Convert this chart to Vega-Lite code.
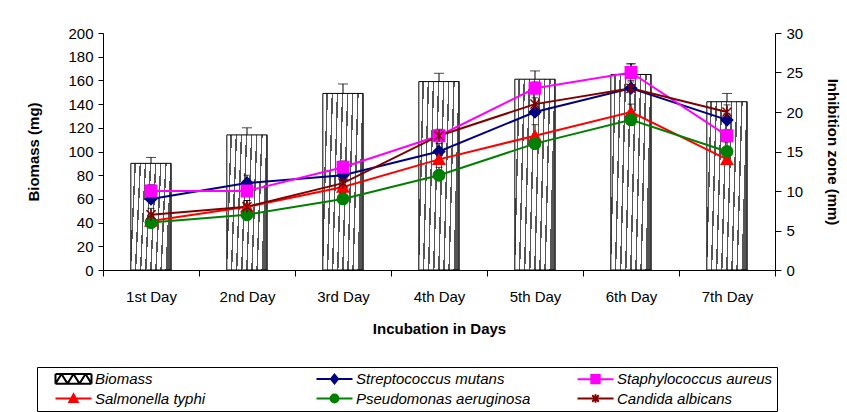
{
  "$schema": "https://vega.github.io/schema/vega-lite/v6.json",
  "width": 672,
  "height": 237,
  "autosize": {"type": "none"},
  "padding": {"left": 103, "top": 33, "right": 72, "bottom": 142},
  "background": "white",
  "config": {
    "font": "Liberation Sans",
    "view": {"stroke": null},
    "axis": {
      "labelColor": "black",
      "titleColor": "black",
      "domainColor": "black",
      "tickColor": "black",
      "grid": false,
      "labelFontSize": 15,
      "titleFontSize": 15,
      "titleFontWeight": "bold",
      "labelFont": "Liberation Sans",
      "titleFont": "Liberation Sans"
    }
  },
  "data": {
    "values": [
      {"day": "1st Day", "series": "Biomass", "value": 90, "hi": 95},
      {"day": "2nd  Day", "series": "Biomass", "value": 114, "hi": 120},
      {"day": "3rd Day", "series": "Biomass", "value": 149, "hi": 157},
      {"day": "4th Day", "series": "Biomass", "value": 159, "hi": 166},
      {"day": "5th Day", "series": "Biomass", "value": 161, "hi": 168},
      {"day": "6th Day", "series": "Biomass", "value": 165, "hi": 174},
      {"day": "7th Day", "series": "Biomass", "value": 142, "hi": 149},
      {"day": "1st Day", "series": "Streptococcus mutans", "value": 9, "hi": 9.8},
      {"day": "2nd  Day", "series": "Streptococcus mutans", "value": 11, "hi": 12},
      {"day": "3rd Day", "series": "Streptococcus mutans", "value": 12, "hi": 12.8},
      {"day": "4th Day", "series": "Streptococcus mutans", "value": 15, "hi": 16},
      {"day": "5th Day", "series": "Streptococcus mutans", "value": 20, "hi": 20.9},
      {"day": "6th Day", "series": "Streptococcus mutans", "value": 23, "hi": 24},
      {"day": "7th Day", "series": "Streptococcus mutans", "value": 19, "hi": 19.8},
      {"day": "1st Day", "series": "Staphylococcus aureus", "value": 10, "hi": 10.8},
      {"day": "2nd  Day", "series": "Staphylococcus aureus", "value": 10, "hi": 10.8},
      {"day": "3rd Day", "series": "Staphylococcus aureus", "value": 13, "hi": 13.8},
      {"day": "4th Day", "series": "Staphylococcus aureus", "value": 17, "hi": 17.8},
      {"day": "5th Day", "series": "Staphylococcus aureus", "value": 23, "hi": 23.8},
      {"day": "6th Day", "series": "Staphylococcus aureus", "value": 25, "hi": 26.1},
      {"day": "7th Day", "series": "Staphylococcus aureus", "value": 17, "hi": 17.8},
      {"day": "1st Day", "series": "Salmonella typhi", "value": 6.2, "hi": 7},
      {"day": "2nd  Day", "series": "Salmonella typhi", "value": 8, "hi": 8.8},
      {"day": "3rd Day", "series": "Salmonella typhi", "value": 10.5, "hi": 11.3},
      {"day": "4th Day", "series": "Salmonella typhi", "value": 14, "hi": 14.8},
      {"day": "5th Day", "series": "Salmonella typhi", "value": 17, "hi": 18.4},
      {"day": "6th Day", "series": "Salmonella typhi", "value": 20, "hi": 21},
      {"day": "7th Day", "series": "Salmonella typhi", "value": 14, "hi": 14.8},
      {"day": "1st Day", "series": "Pseudomonas aeruginosa", "value": 6, "hi": 6.8},
      {"day": "2nd  Day", "series": "Pseudomonas aeruginosa", "value": 7, "hi": 7.8},
      {"day": "3rd Day", "series": "Pseudomonas aeruginosa", "value": 9, "hi": 9.8},
      {"day": "4th Day", "series": "Pseudomonas aeruginosa", "value": 12, "hi": 13},
      {"day": "5th Day", "series": "Pseudomonas aeruginosa", "value": 16, "hi": 16.8},
      {"day": "6th Day", "series": "Pseudomonas aeruginosa", "value": 19, "hi": 20},
      {"day": "7th Day", "series": "Pseudomonas aeruginosa", "value": 15, "hi": 16.2},
      {"day": "1st Day", "series": "Candida albicans", "value": 7, "hi": 7.8},
      {"day": "2nd  Day", "series": "Candida albicans", "value": 8, "hi": 8.8},
      {"day": "3rd Day", "series": "Candida albicans", "value": 11, "hi": 11.8},
      {"day": "4th Day", "series": "Candida albicans", "value": 17, "hi": 17.8},
      {"day": "5th Day", "series": "Candida albicans", "value": 21, "hi": 21.8},
      {"day": "6th Day", "series": "Candida albicans", "value": 23, "hi": 23.8},
      {"day": "7th Day", "series": "Candida albicans", "value": 20, "hi": 20.9}
    ]
  },
  "layer": [
    {
      "transform": [{"filter": "datum.series == 'Biomass'"}],
      "encoding": {
        "x": {
          "field": "day", "type": "ordinal", "sort": null,
          "scale": {"paddingInner": 0, "paddingOuter": 0},
          "axis": {"title": "Incubation in Days", "labelAngle": 0, "tickBand": "extent", "tickSize": 6, "labelPadding": 13, "titlePadding": 17}
        },
        "y": {
          "field": "value", "type": "quantitative",
          "scale": {"domain": [0, 200], "nice": false},
          "axis": {"title": "Biomass (mg)", "values": [0, 20, 40, 60, 80, 100, 120, 140, 160, 180, 200], "tickSize": 5, "labelPadding": 5, "titlePadding": 26}
        }
      },
      "layer": [
        {
          "mark": {
            "type": "bar",
            "width": {"band": 0.42},
            "stroke": "black",
            "strokeWidth": 1,
            "fill": {
              "gradient": "linear", "x1": 0, "y1": 0, "x2": 1, "y2": 0.12,
              "stops": [
                {"offset": 0, "color": "#ffffff"}, {"offset": 0.09, "color": "#ffffff"}, {"offset": 0.09, "color": "#555555"}, {"offset": 0.125, "color": "#555555"},
                {"offset": 0.125, "color": "#ffffff"}, {"offset": 0.215, "color": "#ffffff"}, {"offset": 0.215, "color": "#555555"}, {"offset": 0.25, "color": "#555555"},
                {"offset": 0.25, "color": "#ffffff"}, {"offset": 0.34, "color": "#ffffff"}, {"offset": 0.34, "color": "#555555"}, {"offset": 0.375, "color": "#555555"},
                {"offset": 0.375, "color": "#ffffff"}, {"offset": 0.465, "color": "#ffffff"}, {"offset": 0.465, "color": "#555555"}, {"offset": 0.5, "color": "#555555"},
                {"offset": 0.5, "color": "#ffffff"}, {"offset": 0.59, "color": "#ffffff"}, {"offset": 0.59, "color": "#555555"}, {"offset": 0.625, "color": "#555555"},
                {"offset": 0.625, "color": "#ffffff"}, {"offset": 0.715, "color": "#ffffff"}, {"offset": 0.715, "color": "#555555"}, {"offset": 0.75, "color": "#555555"},
                {"offset": 0.75, "color": "#ffffff"}, {"offset": 0.84, "color": "#ffffff"}, {"offset": 0.84, "color": "#555555"}, {"offset": 0.875, "color": "#555555"},
                {"offset": 0.875, "color": "#ffffff"}, {"offset": 0.965, "color": "#ffffff"}, {"offset": 0.965, "color": "#555555"}, {"offset": 1, "color": "#555555"}
              ]
            }
          }
        },
        {
          "mark": {"type": "rule", "color": "black", "strokeWidth": 1},
          "encoding": {"y2": {"field": "hi"}}
        },
        {
          "mark": {"type": "tick", "color": "black", "size": 10, "thickness": 1},
          "encoding": {
            "y": {"field": "hi", "type": "quantitative", "axis": {"title": "Biomass (mg)", "values": [0, 20, 40, 60, 80, 100, 120, 140, 160, 180, 200], "tickSize": 5, "labelPadding": 5, "titlePadding": 26}}
          }
        }
      ]
    },
    {
      "transform": [{"filter": "datum.series != 'Biomass'"}],
      "encoding": {
        "x": {
          "field": "day", "type": "ordinal", "sort": null,
          "scale": {"paddingInner": 0, "paddingOuter": 0},
          "axis": {"title": "Incubation in Days", "labelAngle": 0, "tickBand": "extent", "tickSize": 6, "labelPadding": 13, "titlePadding": 17}
        },
        "y": {
          "field": "value", "type": "quantitative",
          "scale": {"domain": [0, 30], "nice": false},
          "axis": {"orient": "right", "title": "Inhibition zone (mm)", "values": [0, 5, 10, 15, 20, 25, 30], "tickSize": 6, "labelPadding": 5, "titlePadding": 22}
        }
      },
      "layer": [
        {
          "mark": {"type": "rule", "color": "black", "strokeWidth": 1},
          "encoding": {"y2": {"field": "hi"}}
        },
        {
          "mark": {"type": "tick", "color": "black", "size": 7, "thickness": 1},
          "encoding": {
            "y": {"field": "hi", "type": "quantitative", "axis": {"orient": "right", "title": "Inhibition zone (mm)", "values": [0, 5, 10, 15, 20, 25, 30], "tickSize": 6, "labelPadding": 5, "titlePadding": 22}}
          }
        },
        {
          "mark": {"type": "line", "strokeWidth": 2},
          "encoding": {
            "color": {
              "field": "series", "type": "nominal",
              "scale": {
                "domain": ["Biomass", "Streptococcus mutans", "Staphylococcus aureus", "Salmonella typhi", "Pseudomonas aeruginosa", "Candida albicans"],
                "range": ["#000000", "#000080", "#ff00ff", "#ff0000", "#008000", "#800000"]
              },
              "legend": {
                "orient": "none",
                "legendX": -66,
                "legendY": 334,
                "title": null,
                "columns": 3,
                "direction": "horizontal",
                "gridAlign": "all",
                "columnPadding": 32,
                "rowPadding": 2,
                "padding": 4,
                "strokeColor": "black",
                "fillColor": "white",
                "symbolSize": 144,
                "symbolStrokeWidth": 2,
                "symbolOffset": 25,
                "labelOffset": 14,
                "labelFont": "Liberation Sans",
                "labelFontSize": 15,
                "labelFontStyle": "italic",
                "labelColor": "black",
                "labelLimit": 300,
                "encode": {
                  "symbols": {
                    "update": {
                      "shape": {"signal": "datum.value == 'Biomass' ? 'M-3,-0.8L3,-0.8M3,-0.8L3,0.8M3,0.8L-3,0.8M-3,0.8L-3,-0.8M-3,0.8L-2,-0.8M-2,-0.8L-1,0.8M-1,0.8L0,-0.8M0,-0.8L1,0.8M1,0.8L2,-0.8M2,-0.8L3,0.8' : datum.value == 'Streptococcus mutans' ? 'M-3,0H3M0,-0.75L0.6,0L0,0.75L-0.6,0Z' : datum.value == 'Staphylococcus aureus' ? 'M-3,0H3M-0.7,-0.7H0.7V0.7H-0.7Z' : datum.value == 'Salmonella typhi' ? 'M-3,0H3M0,-0.7L0.7,0.6H-0.7Z' : datum.value == 'Pseudomonas aeruginosa' ? 'M-3,0H3M0.65,0A0.65,0.65 0 1,1 -0.65,0A0.65,0.65 0 1,1 0.65,0' : 'M-3,0H3M-0.55,-0.55L0.55,0.55M-0.55,0.55L0.55,-0.55M0,-0.7V0.7'"},
                      "opacity": {"value": 1}
                    }
                  }
                }
              }
            }
          }
        },
        {
          "mark": {"type": "point", "filled": true, "size": 130, "strokeWidth": 1.5, "opacity": 1},
          "encoding": {
            "color": {"field": "series", "type": "nominal", "legend": null},
            "stroke": {
              "field": "series", "type": "nominal", "legend": null,
              "scale": {
                "domain": ["Streptococcus mutans", "Staphylococcus aureus", "Salmonella typhi", "Pseudomonas aeruginosa", "Candida albicans"],
                "range": ["#000080", "#ff00ff", "#ff0000", "#008000", "#800000"]
              }
            },
            "shape": {
              "field": "series", "type": "nominal", "legend": null,
              "scale": {
                "domain": ["Streptococcus mutans", "Staphylococcus aureus", "Salmonella typhi", "Pseudomonas aeruginosa", "Candida albicans"],
                "range": ["diamond", "square", "triangle-up", "circle", "M-0.8,-0.8L0.8,0.8M-0.8,0.8L0.8,-0.8M0,-1V1"]
              }
            }
          }
        }
      ]
    }
  ],
  "resolve": {"scale": {"y": "independent"}}
}
